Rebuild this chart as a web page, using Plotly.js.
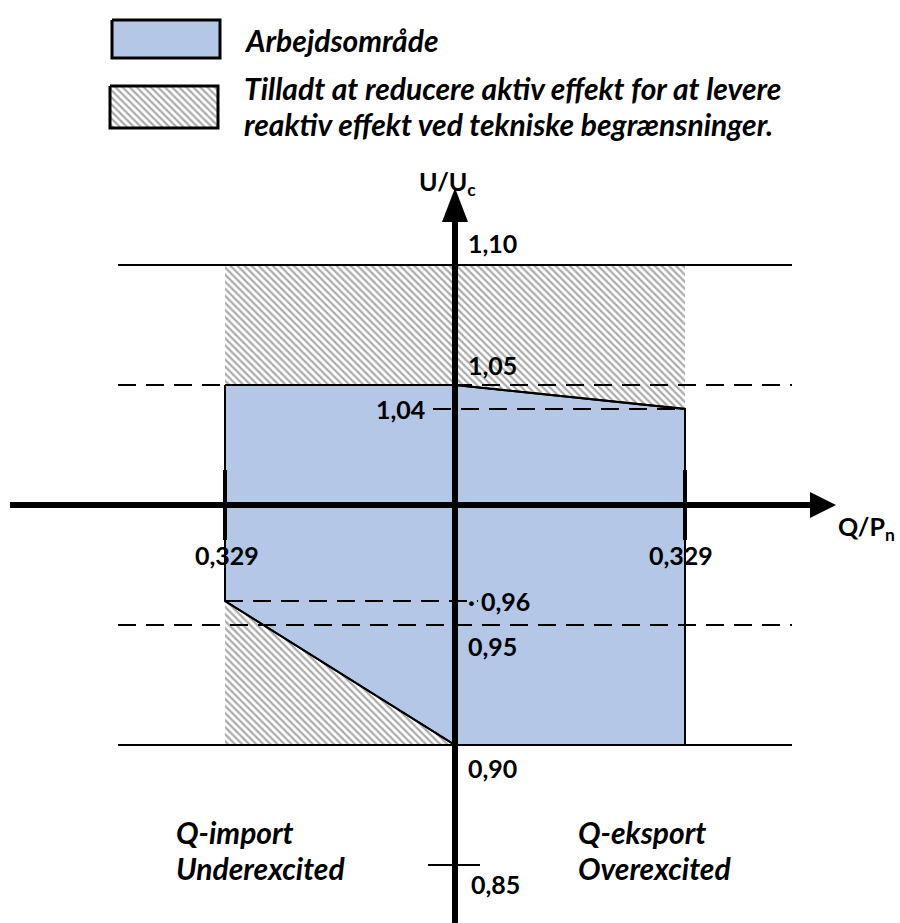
<!DOCTYPE html>
<html><head><meta charset="utf-8">
<script src="https://cdn.plot.ly/plotly-3.0.1.min.js"></script>
<style>html,body{margin:0;padding:0;background:#fff}#chart{width:900px;height:923px}</style>
</head><body><div id="chart"></div>
<script>
// ---------- data ----------
const qLimit = 0.329;
const uTop = 1.10, uUpperDash = 1.05, uKnee = 1.04, uNominal = 1.00;
const uLowKnee = 0.96, uLowerDash = 0.95, uBottom = 0.90, uExtra = 0.85;
const uTickValues = [1.10, 1.05, 1.04, 0.96, 0.95, 0.90, 0.85];
const uTickLabels = ['1,10', '1,05', '1,04', '0,96', '0,95', '0,90', '0,85'];
const qTickValues = [-0.329, 0.329];
const qTickLabels = ['0,329', '0,329'];
const workQ = [-0.329, 0, 0.329, 0.329, 0, -0.329, -0.329];
const workU = [1.05, 1.05, 1.04, 0.90, 0.90, 0.96, 1.05];
const hatchTopQ = [-0.329, 0.329, 0.329, 0, -0.329, -0.329];
const hatchTopU = [1.10, 1.10, 1.04, 1.05, 1.05, 1.10];
const hatchLowQ = [-0.329, 0, -0.329, -0.329];
const hatchLowU = [0.96, 0.90, 0.90, 0.96];
const legendLabels = ['Arbejdsområde',
  'Tilladt at reducere aktiv effekt for at levere<br>reaktiv effekt ved tekniske begrænsninger.'];
const quadrantLabels = ['Q-import<br>Underexcited', 'Q-eksport<br>Overexcited'];
const axisTitles = ['Q/P<sub>n</sub>', 'U/U<sub>c</sub>'];

// ---------- geometry (page pixels <-> data) ----------
const W = 900, H = 923;
const X0 = 455, KX = 230 / qLimit;          // pixel of Q=0, px per unit Q
const Y0 = 265, KY = 480 / (uTop - uBottom); // pixel of U=1.10, px per unit U
const qAt = px => (px - X0) / KX;
const uAt = py => uTop - (py - Y0) / KY;
const xRange = [qAt(0), qAt(W)];
const yRange = [uAt(H), uAt(0)];
const qSpan = qAt(792);

const BLUE = '#b4c7e7';
const FONT = 'Lato, "Open Sans", sans-serif';
const hatch = {shape: '\\', fgcolor: '#ababab', bgcolor: '#ffffff', size: 5, solidity: 0.45};
const DASH = '18px,10px';

const traces = [];
const line = (x, y, w, dash, color) => traces.push({x, y, mode: 'lines', hoverinfo: 'skip',
  line: {color: color || '#000', width: w, dash: dash || 'solid'}, showlegend: false});
const poly = (x, y, extra) => traces.push(Object.assign({x, y, mode: 'lines', fill: 'toself',
  hoverinfo: 'skip', showlegend: false}, extra));

// hatched regions
poly(hatchTopQ, hatchTopU, {fillcolor: 'rgba(0,0,0,0)', fillpattern: hatch, line: {width: 0}});
poly(hatchLowQ, hatchLowU, {fillcolor: 'rgba(0,0,0,0)', fillpattern: hatch, line: {width: 0}});
// working area
poly(workQ, workU, {fillcolor: BLUE, line: {color: '#000', width: 2}});

// dashed reference lines
line([-qSpan, qSpan], [uUpperDash, uUpperDash], 2, DASH);
line([-qSpan, qSpan], [uLowerDash, uLowerDash], 2, DASH);
line([qAt(433), qLimit], [uKnee, uKnee], 2, DASH);
line([-qLimit, qAt(478)], [uLowKnee, uLowKnee], 2, DASH);
// re-draw blue outline on top of dashes
traces.push({x: workQ, y: workU, mode: 'lines', hoverinfo: 'skip', showlegend: false,
  line: {color: '#000', width: 2}});
// solid limits
line([-qSpan, qSpan], [uTop, uTop], 2);
line([-qSpan, qSpan], [uBottom, uBottom], 2);

// axes
line([qAt(10), qAt(815)], [uNominal, uNominal], 6);
line([0, 0], [uAt(215), uAt(H + 5)], 6);
poly([qAt(836), qAt(810), qAt(810), qAt(836)], [uNominal, uAt(492), uAt(518), uNominal],
  {fillcolor: '#000', line: {width: 0}});
poly([0, qAt(X0 - 13), qAt(X0 + 13), 0], [uAt(188), uAt(222), uAt(222), uAt(188)],
  {fillcolor: '#000', line: {width: 0}});
// ticks at ±0.329 and 0.85
qTickValues.forEach(q => line([q, q], [uAt(470), uAt(540)], 4));
line([qAt(428), qAt(480)], [uExtra, uExtra], 2);

// legend swatches
poly([qAt(112), qAt(220), qAt(220), qAt(112), qAt(112)], [uAt(20), uAt(20), uAt(58), uAt(58), uAt(20)],
  {fillcolor: BLUE, line: {color: '#000', width: 3}});
poly([qAt(110), qAt(218), qAt(218), qAt(110), qAt(110)], [uAt(86), uAt(86), uAt(128), uAt(128), uAt(86)],
  {fillcolor: 'rgba(0,0,0,0)', fillpattern: hatch, line: {color: '#000', width: 3}});

// ---------- annotations ----------
const ann = [];
const txt = (text, x, y, xanchor, yanchor, size, italic, extra) => ann.push(Object.assign({
  text, x, y, xref: 'x', yref: 'y', xanchor, yanchor, showarrow: false,
  font: {family: FONT, size, color: '#000', weight: 700, style: italic ? 'italic' : 'normal'}
}, extra || {}));

const FS = 25, FI = 30;
// U tick labels
txt(uTickLabels[0], qAt(466), uTickValues[0], 'left', 'middle', FS, false, {yshift: 22});
txt(uTickLabels[1], qAt(466), uTickValues[1], 'left', 'middle', FS, false, {yshift: 20});
txt(uTickLabels[2], qAt(427), uTickValues[2], 'right', 'middle', FS, false);
txt('·&nbsp;' + uTickLabels[3], qAt(466), uTickValues[3], 'left', 'middle', FS, false);
txt(uTickLabels[4], qAt(466), uTickValues[4], 'left', 'middle', FS, false, {yshift: -21});
txt(uTickLabels[5], qAt(466), uTickValues[5], 'left', 'middle', FS, false, {yshift: -23});
txt(uTickLabels[6], qAt(469), uTickValues[6], 'left', 'middle', FS, false, {yshift: -19});
// Q tick labels
txt(qTickLabels[0], qTickValues[0], uNominal, 'center', 'middle', FS, false, {xshift: 2, yshift: -50});
txt(qTickLabels[1], qTickValues[1], uNominal, 'center', 'middle', FS, false, {xshift: -4, yshift: -50});
// axis titles
txt(axisTitles[0], qAt(836), uAt(528), 'left', 'middle', FS, false);
txt(axisTitles[1], 0, uAt(183), 'center', 'middle', FS, false, {xshift: -8});
// quadrant labels (one annotation per line)
quadrantLabels[0].split('<br>').forEach((t, i) => txt(t, qAt(174), uAt(832 + 36 * i), 'left', 'middle', FI, true));
quadrantLabels[1].split('<br>').forEach((t, i) => txt(t, qAt(576), uAt(832 + 36 * i), 'left', 'middle', FI, true));
// legend text
txt(legendLabels[0], qAt(242), uAt(40), 'left', 'middle', FI, true);
legendLabels[1].split('<br>').forEach((t, i) => txt(t, qAt(242), uAt(88 + 36 * i), 'left', 'middle', FI, true));

const layout = {
  width: W, height: H, margin: {l: 0, r: 0, t: 0, b: 0},
  paper_bgcolor: '#fff', plot_bgcolor: '#fff', showlegend: false,
  xaxis: {range: xRange, visible: false, fixedrange: true},
  yaxis: {range: yRange, visible: false, fixedrange: true},
  annotations: ann
};
Plotly.newPlot('chart', traces, layout, {staticPlot: true});
</script></body></html>
